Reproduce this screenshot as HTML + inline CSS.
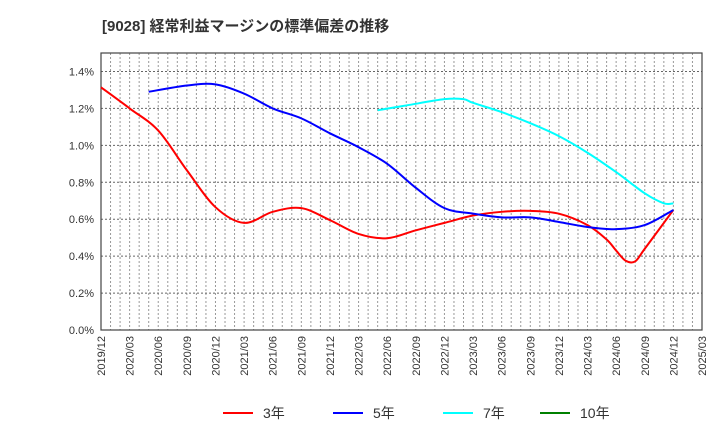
<!DOCTYPE html>
<html><head><meta charset="utf-8"><style>
body{margin:0;background:#fff;font-family:"Liberation Sans","Noto Sans CJK JP",sans-serif}
svg text{font-family:"Liberation Sans","Noto Sans CJK JP",sans-serif}
</style></head><body>
<svg id="c" width="720" height="440">
<text x="102" y="31" font-size="15" font-weight="bold" fill="#333">[9028]  経常利益マージンの標準偏差の推移</text>
<g id="grid"></g><g id="axes"></g><g id="series"></g><g id="legend"></g>
</svg>
<script>
const xLabels=["2019/12","2020/03","2020/06","2020/09","2020/12","2021/03","2021/06","2021/09","2021/12","2022/03","2022/06","2022/09","2022/12","2023/03","2023/06","2023/09","2023/12","2024/03","2024/06","2024/09","2024/12","2025/03"];
const yTicks=[0,0.2,0.4,0.6,0.8,1.0,1.2,1.4];
const s3Months=[0,3,6,9,12,15,18,21,24,27,30,33,36,39,42,45,48,51,53,54,55,56,57,60];
const s3Values=[1.314,1.2,1.08,0.865,0.665,0.58,0.64,0.66,0.595,0.52,0.497,0.54,0.58,0.62,0.64,0.645,0.63,0.568,0.49,0.43,0.375,0.372,0.44,0.65];
const s5Months=[5,9,12,15,18,21,24,27,30,33,36,39,42,45,48,51,54,57,60];
const s5Values=[1.29,1.324,1.33,1.28,1.2,1.146,1.065,0.99,0.9,0.77,0.66,0.63,0.61,0.61,0.585,0.558,0.546,0.568,0.65];
const s7Months=[29,32,36,38,39,42,45,48,51,54,57,59,60];
const s7Values=[1.19,1.216,1.25,1.25,1.23,1.18,1.12,1.05,0.96,0.855,0.74,0.686,0.686];
const legendNames=["3年","5年","7年","10年"];
const colors=["#ff0000","#0000ff","#00ffff","#008000"];
const L=101,R=702,T=53,B=330,yMax=1.5;
const x=m=>L+(R-L)*m/63, y=v=>B-(B-T)*v/yMax;
const NS="http://www.w3.org/2000/svg";
function mk(p,tag,at){const e=document.createElementNS(NS,tag);for(const k in at)e.setAttribute(k,at[k]);p.appendChild(e);return e;}
const grid=document.getElementById('grid'),axes=document.getElementById('axes'),ser=document.getElementById('series'),leg=document.getElementById('legend');
for(let m=1;m<63;m++){const l=mk(grid,'line',{x1:x(m),x2:x(m),y1:T,y2:B,stroke:'#999','stroke-dasharray':'2,2','stroke-width':1});

}
yTicks.forEach(v=>{if(v>0){const l=mk(grid,'line',{x1:L,x2:R,y1:y(v),y2:y(v),stroke:'#666','stroke-dasharray':'2,2','stroke-width':1});

}
const t=mk(axes,'text',{x:L-7,y:y(v)+4,'text-anchor':'end','font-size':11,fill:'#333'});t.textContent=v.toFixed(1)+'%';

});
mk(axes,'rect',{x:L,y:T,width:R-L,height:B-T,fill:'none',stroke:'#444','stroke-width':1.2});
xLabels.forEach((lb,i)=>{const xx=x(i*3);const t=mk(axes,'text',{x:0,y:0,'font-size':11,fill:'#333','text-anchor':'end',transform:`translate(${xx+4},${B+6}) rotate(-90)`});t.textContent=lb;

});
function path(ms,vs){const P=ms.map((m,i)=>[x(m),y(vs[i])]);let d=`M${P[0][0]},${P[0][1]}`;
for(let i=0;i<P.length-1;i++){const p0=P[i-1]||P[i],p1=P[i],p2=P[i+1],p3=P[i+2]||p2;
d+=` C${p1[0]+(p2[0]-p0[0])/6},${p1[1]+(p2[1]-p0[1])/6} ${p2[0]-(p3[0]-p1[0])/6},${p2[1]-(p3[1]-p1[1])/6} ${p2[0]},${p2[1]}`;}return d;}
[[s3Months,s3Values,'line-3y'],[s5Months,s5Values,'line-5y'],[s7Months,s7Values,'line-7y']].forEach((s,i)=>{
const p=mk(ser,'path',{d:path(s[0],s[1]),fill:'none',stroke:colors[i],'stroke-width':2});

});
const lx=[223,333,443,540];
legendNames.forEach((n,i)=>{const g=mk(leg,'g',{});


mk(g,'line',{x1:lx[i],x2:lx[i]+30,y1:413,y2:413,stroke:colors[i],'stroke-width':2});
const t=mk(g,'text',{x:lx[i]+40,y:418,'font-size':14,fill:'#333'});t.textContent=n;});
</script>
</body></html>
